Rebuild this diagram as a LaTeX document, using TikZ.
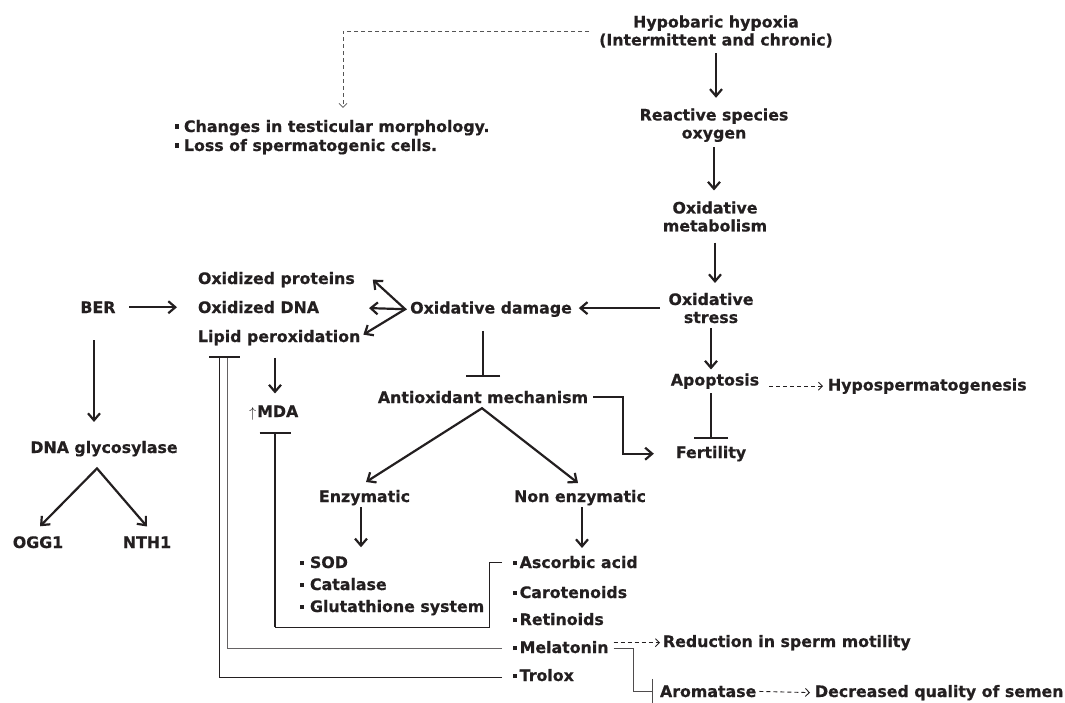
\documentclass[tikz,border=0pt]{standalone}
\usepackage{fontspec}
\setmainfont{DejaVu Sans}[BoldFont={DejaVu Sans Bold}, BoldFeatures={FakeBold=0.6}]
\usetikzlibrary{arrows.meta,calc}
\definecolor{ink}{HTML}{231F20}
\definecolor{dashgray}{HTML}{555555}
\newcommand\bul[1]{\raisebox{3pt}{\rule{4pt}{4.5pt}}\hspace{#1}}
\begin{document}
\begin{tikzpicture}[x=1pt,y=-1pt,
  every node/.style={inner sep=0pt, outer sep=0pt, text=ink, font=\bfseries\fontsize{15.8}{18}\selectfont},
  lbl/.style={anchor=base, align=center},
  lft/.style={anchor=base west},
  arr/.style={draw=ink, line width=2.2pt, -{Straight Barb[length=7pt,width=12pt]}},
  dbl/.style={draw=ink, line width=2.2pt, line join=miter, {Straight Barb[length=7pt,width=12pt]}-{Straight Barb[length=7pt,width=12pt]}},
  inh/.style={draw=ink, line width=2.2pt, -{Bar[width=34pt]}},
  dsh/.style={draw=ink, line width=0.9pt, dash pattern=on 4pt off 3pt, -{Straight Barb[length=4pt,width=8pt]}},
  thinl/.style={draw=ink, line width=1pt},
  ]
\useasboundingbox (0,0) rectangle (1065,703);
% nodes (multi-line nodes: base = last line)
\node[lbl] (hyp) at (716,45.5) {Hypobaric hypoxia\\(Intermittent and chronic)};
\node[lbl] (ros) at (714,138.5) {Reactive species\\oxygen};
\node[lbl] (met) at (715,231.5) {Oxidative\\metabolism};
\node[lbl] (str) at (711,323) {Oxidative\\stress};
\node[lbl] (apo) at (715,385.5) {Apoptosis};
\node[lft] (hypo) at (828,390.5) {Hypospermatogenesis};
\node[lbl] (fert) at (711,458) {Fertility};
\node[lbl] (dmg) at (491,313.5) {Oxidative damage};
\node[lft] (prot) at (198,284) {Oxidized proteins};
\node[lft] (dna) at (198,313) {Oxidized DNA};
\node[lft] (lip) at (198,342) {Lipid peroxidation};
\node[lbl] (anti) at (483,403) {Antioxidant mechanism};
\node[lbl] (enz) at (364.5,502) {Enzymatic};
\node[lbl] (nonenz) at (580,502) {Non enzymatic};
\node[lft] (sod) at (300,568) {\bul{6pt}SOD};
\node[lft] (cat) at (300,590) {\bul{6pt}Catalase};
\node[lft] (glu) at (300,612) {\bul{6pt}Glutathione system};
\node[lft] (asc) at (513,568) {\bul{2.7pt}Ascorbic acid};
\node[lft] (car) at (513,598) {\bul{2.7pt}Carotenoids};
\node[lft] (ret) at (513,625) {\bul{2.7pt}Retinoids};
\node[lft] (mel) at (513,653) {\bul{2.7pt}Melatonin};
\node[lft] (tro) at (513,681) {\bul{2.7pt}Trolox};
\node[lft] (red) at (663,647) {Reduction in sperm motility};
\node[lft] (arom) at (660,697) {Aromatase};
\node[lft] (dec) at (815,697) {Decreased quality of semen};
\node[lbl] (ber) at (98,313) {BER};
\node[lbl] (gly) at (104,453) {DNA glycosylase};
\node[lbl] (ogg) at (38,548) {OGG1};
\node[lbl] (nth) at (147,548) {NTH1};
\node[lft] (mda) at (249,417) {$\uparrow$\kern1pt MDA};
\node[lft] (chg) at (175,132) {\bul{5pt}Changes in testicular morphology.};
\node[lft] (loss) at (175,151) {\bul{5pt}Loss of spermatogenic cells.};
% main column
\draw[arr, shorten <=5.5pt, shorten >=10.7pt] (hyp.south) -- (hyp.south |- ros.north);
\draw[arr, shorten <=5pt, shorten >=11pt] (ros.south) -- (ros.south |- met.north);
\draw[arr, shorten <=11pt, shorten >=10pt] (met.south) -- (met.south |- str.north);
\draw[arr, shorten <=9pt, shorten >=7pt] (str.west) -- (dmg.east |- str.west);
\draw[arr, shorten <=5pt, shorten >=4pt] (str.south) -- (str.south |- apo.north);
\draw[dsh, shorten <=10pt, shorten >=5pt] (apo.east |- hypo.west) -- (hypo.west);
\draw[inh, shorten <=4.5pt, shorten >=7pt] (apo.south -| fert.north) -- (fert.north);
\coordinate (fbend) at (623,0);
\draw[arr, shorten >=22pt] ([xshift=5pt]anti.east) -| (fbend |- fert.west) -- (fert.west);
% damage
\draw[inh, shorten <=14pt, shorten >=14pt] (anti.north |- dmg.south) -- (anti.north);
\coordinate (dsrc) at ($(dmg.west)+(-5,0)$);
\draw[dbl] ($(prot.east)+(18,0)$) -- (dsrc) -- ($(lip.east)+(3,-3)$);
\draw[arr] (dsrc) -- ($(dna.east)+(50,1)$);
% BER
\draw[arr, shorten <=13.5pt, shorten >=21pt] (ber.east) -- (ber.east -| dna.west);
\draw[arr, shorten <=27pt, shorten >=19pt] ([xshift=-4pt]ber.south) -- ([xshift=-4pt]ber.south |- gly.north);
\coordinate (gapex) at ($(gly.south)+(-7,12)$);
\draw[dbl] ($(ogg.north)+(2,-10)$) -- (gapex) -- ($(nth.north)+(0,-10)$);
% antioxidant
\coordinate (aapex) at ($(anti.south)+(-1,5)$);
\draw[dbl] ($(enz.north)+(1.5,-8)$) -- (aapex) -- ($(nonenz.north)+(-2,-7)$);
\draw[arr, shorten <=2pt, shorten >=9pt] ([xshift=-3.5pt]enz.south) -- ([xshift=-3.5pt]enz.south |- sod.north);
\draw[arr, shorten <=2pt, shorten >=8pt] ([xshift=2pt]nonenz.south) -- ([xshift=2pt]nonenz.south |- asc.north);
% MDA
\coordinate (mdax) at (275,0);
\draw[arr, shorten <=12.7pt, shorten >=12pt] (lip.south -| mdax) -- (mda.north -| mdax);
\coordinate (bk) at (489,627);
\draw[thinl] ([xshift=-11pt]asc.west) -| (bk) -- (bk -| mdax);
\draw[draw=ink, line width=2.2pt, -{Bar[width=31pt]}, shorten >=12pt] (bk -| mdax) -- (mda.south -| mdax);
% lipid peroxidation inhibitors
\coordinate (lipA) at (227,357);
\coordinate (lipB) at (219,357);
\coordinate (lbL) at (209,357);
\coordinate (lbR) at (240,357);
\draw[draw=ink!70, line width=1pt] ($(mel.west)+(-11,1)$) -| (lipA);
\draw[thinl] ($(tro.west)+(-11,2)$) -| (lipB);
\draw[draw=ink, line width=2.2pt] (lbL) -- (lbR);
% melatonin
\draw[dsh, shorten <=5pt, shorten >=3pt] (mel.east |- red.west) -- (red.west);
\coordinate (abend) at (633,0);
\draw[draw=ink!80, line width=1pt, -{Bar[width=25pt]}, shorten >=7pt] ($(mel.east)+(5,1)$) -| (abend |- arom.west) -- (arom.west);
\draw[dsh, shorten <=3pt, shorten >=5pt] (arom.east) -- (dec.west);
% top dashed
\coordinate (cx) at (343,0);
\draw[dsh, draw=dashgray, line width=0.8pt, shorten <=10pt, shorten >=12pt] (hyp.west) -| (chg.north -| cx);
\end{tikzpicture}
\end{document}
